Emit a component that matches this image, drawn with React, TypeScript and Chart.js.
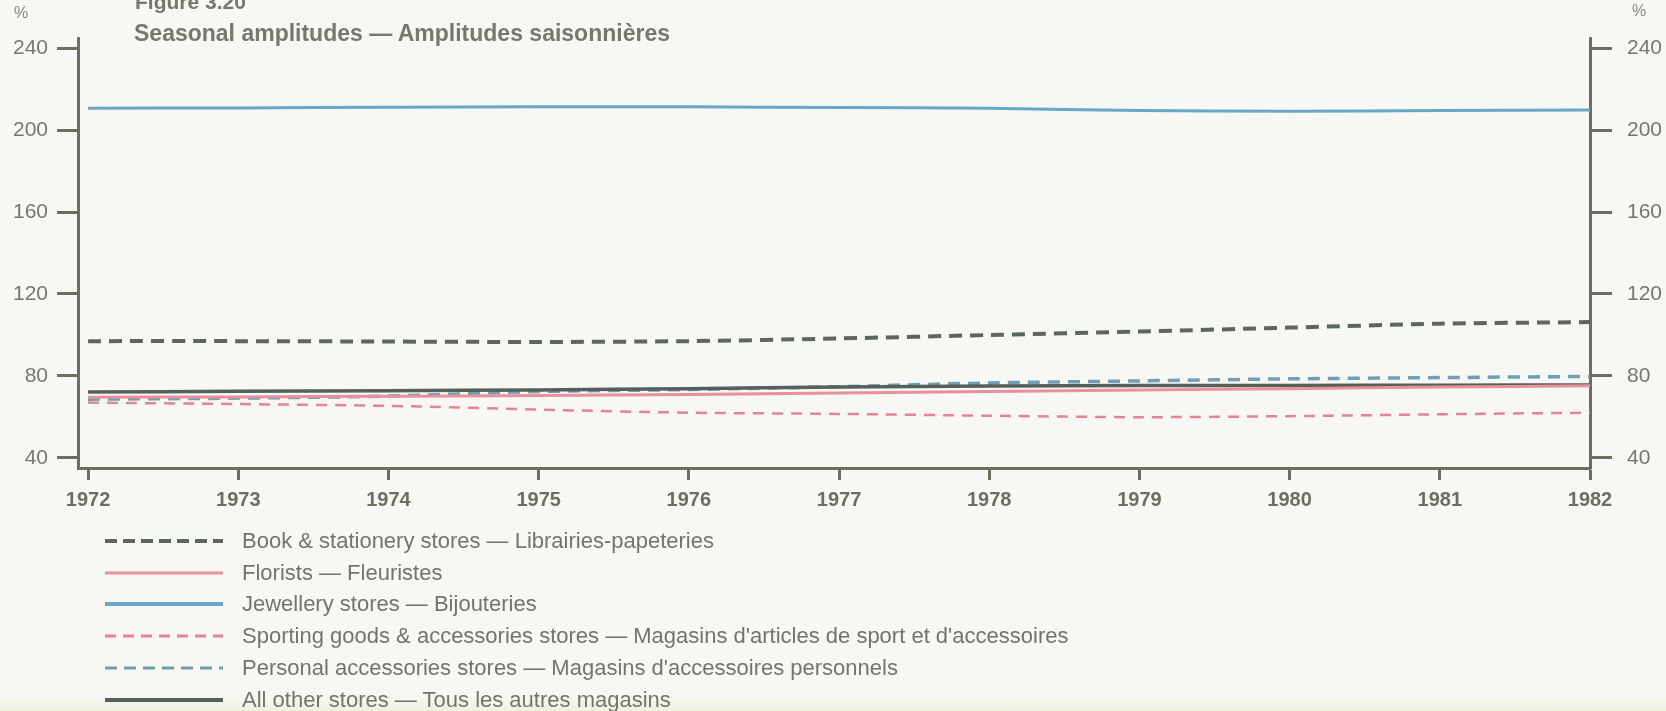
import React, { useEffect, useRef } from "react";
import { Chart, registerables } from "chart.js";

Chart.register(...registerables);

const years = [1972, 1973, 1974, 1975, 1976, 1977, 1978, 1979, 1980, 1981, 1982];
const yTicks = [40, 80, 120, 160, 200, 240];

const bookStationery = [97, 97, 96.8, 96.6, 97, 98.3, 100, 101.7, 103.6, 105.5, 106.3];
const florists = [69.6, 69.8, 70.1, 70.5, 71, 71.7, 72.4, 73.2, 73.8, 74.6, 75.2];
const jewellery = [210.6, 210.8, 211.1, 211.3, 211.3, 211, 210.6, 209.5, 209.2, 209.5, 209.8];
const sportingGoods = [67, 66.3, 65.4, 63.6, 62.1, 61.5, 60.6, 59.9, 60.4, 61.3, 62.1];
const personalAccessories = [68.7, 69.2, 70.2, 72.4, 73.4, 74.8, 76.6, 77.6, 78.6, 79.2, 79.8];
const allOther = [72.2, 72.5, 72.8, 73.2, 73.8, 74.6, 75.1, 75.3, 75.4, 75.5, 75.6];

const labels = {
  book: "Book & stationery stores \u2014 Librairies-papeteries",
  florists: "Florists \u2014 Fleuristes",
  jewellery: "Jewellery stores \u2014 Bijouteries",
  sporting: "Sporting goods & accessories stores \u2014 Magasins d'articles de sport et d'accessoires",
  personal: "Personal accessories stores \u2014 Magasins d'accessoires personnels",
  other: "All other stores \u2014 Tous les autres magasins",
};

const C = {
  book: "#5d665c",
  florists: "#e8909c",
  jewellery: "#6aa6c8",
  sporting: "#e58493",
  personal: "#6f9fb2",
  other: "#56605a",
  axis: "#6f6c60",
  text: "#77776d",
  bg: "#f7f7f4",
};

const FONT = "'Liberation Sans', Arial, Helvetica, sans-serif";

const legendItems = [
  { label: labels.book, color: C.book, dash: "12 6", width: 4 },
  { label: labels.florists, color: C.florists, dash: "", width: 3 },
  { label: labels.jewellery, color: C.jewellery, dash: "", width: 4 },
  { label: labels.sporting, color: C.sporting, dash: "11 7", width: 3 },
  { label: labels.personal, color: C.personal, dash: "12 7", width: 3 },
  { label: labels.other, color: C.other, dash: "", width: 4 },
];

export default function App() {
  const ref = useRef<HTMLCanvasElement | null>(null);

  useEffect(() => {
    const canvas = ref.current;
    if (!canvas) return;
    const pts = (arr: number[]) => years.map((y, i) => ({ x: y, y: arr[i] }));
    const chart = new Chart(canvas, {
      type: "line",
      data: {
        datasets: [
          { label: labels.sporting, data: pts(sportingGoods), borderColor: C.sporting, borderWidth: 2.5, borderDash: [11, 8], pointRadius: 0, tension: 0.3 },
          { label: labels.florists, data: pts(florists), borderColor: C.florists, borderWidth: 3, pointRadius: 0, tension: 0.3 },
          { label: labels.other, data: pts(allOther), borderColor: C.other, borderWidth: 3.5, pointRadius: 0, tension: 0.3 },
          { label: labels.personal, data: pts(personalAccessories), borderColor: C.personal, borderWidth: 3.5, borderDash: [12, 8], pointRadius: 0, tension: 0.3 },
          { label: labels.book, data: pts(bookStationery), borderColor: C.book, borderWidth: 4, borderDash: [13, 8], pointRadius: 0, tension: 0.3 },
          { label: labels.jewellery, data: pts(jewellery), borderColor: C.jewellery, borderWidth: 3, pointRadius: 0, tension: 0.3 },
        ],
      },
      options: {
        animation: false,
        responsive: false,
        layout: { padding: { top: 38, left: 0, right: 0, bottom: 0 } },
        plugins: { legend: { display: false }, tooltip: { enabled: false } },
        scales: {
          x: {
            type: "linear",
            min: 1971.933,
            max: 1982,
            afterBuildTicks: (s: any) => { s.ticks = years.map((v) => ({ value: v })); },
            afterFit: (s: any) => { s.height = 711 - 468; },
            grid: { drawOnChartArea: false, drawTicks: true, tickLength: 12, tickWidth: 3, tickColor: C.axis },
            border: { display: true, color: C.axis, width: 3 },
            ticks: {
              padding: 8,
              color: "#6d6d60",
              font: { family: FONT, size: 20, weight: "bold" },
              callback: (v: any) => String(v),
              maxRotation: 0,
              autoSkip: false,
            },
          },
          y: {
            type: "linear",
            position: "left",
            min: 35.1,
            max: 244.9,
            afterBuildTicks: (s: any) => { s.ticks = yTicks.map((v) => ({ value: v })); },
            afterFit: (s: any) => { s.width = 78; },
            grid: { drawOnChartArea: false, drawTicks: true, tickLength: 21, tickWidth: 3, tickColor: C.axis },
            border: { display: true, color: C.axis, width: 3 },
            ticks: { padding: 9, color: C.text, font: { family: FONT, size: 21 }, callback: (v: any) => String(v) },
          },
          y2: {
            type: "linear",
            position: "right",
            min: 35.1,
            max: 244.9,
            afterBuildTicks: (s: any) => { s.ticks = yTicks.map((v) => ({ value: v })); },
            afterFit: (s: any) => { s.width = 1666 - 1590; },
            grid: { drawOnChartArea: false, drawTicks: true, tickLength: 22, tickWidth: 3, tickColor: C.axis },
            border: { display: true, color: C.axis, width: 3 },
            ticks: { padding: 15, color: C.text, font: { family: FONT, size: 21 }, callback: (v: any) => String(v) },
          },
        },
      },
    } as any);
    return () => chart.destroy();
  }, []);

  return (
    <div
      style={{
        position: "absolute",
        left: 0,
        top: 0,
        width: 1666,
        height: 711,
        overflow: "hidden",
        background: `linear-gradient(to bottom, ${C.bg} 0px, ${C.bg} 696px, #eef2dc 711px)`,
        fontFamily: FONT,
      }}
    >
      <canvas ref={ref} width={1666} height={711} style={{ position: "absolute", left: 0, top: 0 }} />
      <div style={{ position: "absolute", left: 14, top: 4, fontSize: 16, color: "#8a8a80" }}>%</div>
      <div style={{ position: "absolute", left: 1632, top: 2, fontSize: 16, color: "#8a8a80" }}>%</div>
      <div style={{ position: "absolute", left: 135, top: -10, fontSize: 21, fontWeight: "bold", color: "#76786c", whiteSpace: "nowrap" }}>
        Figure 3.20
      </div>
      <div style={{ position: "absolute", left: 134, top: 20, fontSize: 23, fontWeight: "bold", color: "#76786c", whiteSpace: "nowrap" }}>
        Seasonal amplitudes — Amplitudes saisonnières
      </div>
      {legendItems.map((it, i) => (
        <div key={i} style={{ position: "absolute", left: 105, top: 541 + i * 31.7 - 14, height: 28, display: "flex", alignItems: "center", whiteSpace: "nowrap" }}>
          <svg width={118} height={10} style={{ display: "block" }}>
            <line x1={0} y1={5} x2={118} y2={5} stroke={it.color} strokeWidth={it.width} strokeDasharray={it.dash || undefined} />
          </svg>
          <span style={{ marginLeft: 19, fontSize: 22, color: "#74746c", lineHeight: "28px" }}>{it.label}</span>
        </div>
      ))}
    </div>
  );
}
